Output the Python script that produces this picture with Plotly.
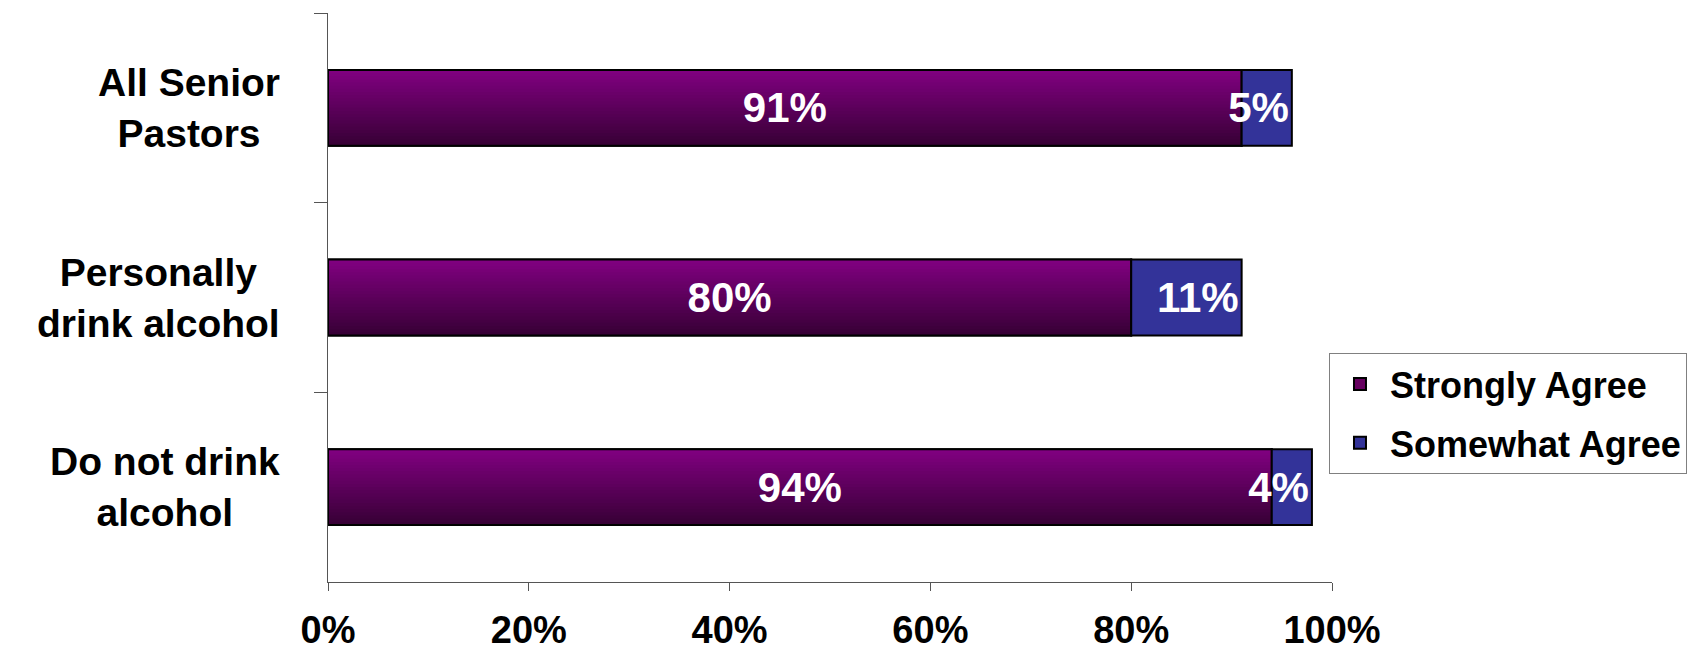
import plotly.graph_objects as go

categories = ["All Senior Pastors", "Personally drink alcohol", "Do not drink alcohol"]
category_labels = ["All Senior<br>Pastors", "Personally<br>drink alcohol", "Do not drink<br>alcohol"]
strongly_agree = [91, 80, 94]
somewhat_agree = [5, 11, 4]
x_ticks = [0, 20, 40, 60, 80, 100]
x_tick_labels = ["0%", "20%", "40%", "60%", "80%", "100%"]

FONT = "Liberation Sans, Arial, sans-serif"
BAR_W = 0.4
N_SLICES = 24
TOP_RGB = (128, 0, 128)
BOT_RGB = (56, 0, 54)

fig = go.Figure()

# legend entry / base fill for Strongly Agree
fig.add_trace(go.Bar(
    y=categories, x=strongly_agree, orientation="h", name="Strongly Agree",
    width=BAR_W, marker=dict(color="#66005f", line=dict(color="#000000", width=2)),
    legendgroup="a", hoverinfo="skip",
))
# vertical gradient built from progressively shorter (lower) slices
for i in range(N_SLICES):
    t = i / (N_SLICES - 1)
    rgb = tuple(round(a + (b - a) * t) for a, b in zip(TOP_RGB, BOT_RGB))
    off = -BAR_W / 2 + i * BAR_W / N_SLICES
    fig.add_trace(go.Bar(
        y=categories, x=strongly_agree, orientation="h",
        width=BAR_W / 2 - off, offset=off,
        marker=dict(color="rgb(%d,%d,%d)" % rgb, line=dict(width=0)),
        showlegend=False, hoverinfo="skip", legendgroup="a",
    ))
# outline + labels
fig.add_trace(go.Bar(
    y=categories, x=strongly_agree, orientation="h", width=BAR_W,
    marker=dict(color="rgba(0,0,0,0)", line=dict(color="#000000", width=2)),
    text=[f"{v}%" for v in strongly_agree], textposition="inside",
    insidetextanchor="middle", constraintext="none", textangle=0,
    textfont=dict(family=FONT, size=42, color="white", weight="bold"),
    showlegend=False, legendgroup="a", name="Strongly Agree",
))
fig.add_trace(go.Bar(
    y=categories, x=somewhat_agree, base=strongly_agree, orientation="h",
    width=BAR_W, name="Somewhat Agree",
    marker=dict(color="#333399", line=dict(color="#000000", width=2)),
    text=[f"{v}%" for v in somewhat_agree], textposition="inside",
    insidetextanchor="end", constraintext="none", textangle=0,
    textfont=dict(family=FONT, size=42, color="white", weight="bold"),
    legendgroup="b",
))

for cat, lab in zip(categories, category_labels):
    fig.add_annotation(
        x=-0.046, xref="paper", y=cat, yref="y", text=lab, showarrow=False,
        xanchor="right", yanchor="middle", align="center",
        font=dict(family=FONT, size=39, color="black", weight="bold"),
    )

fig.update_layout(
    width=1692, height=646,
    margin=dict(l=320, r=368, t=5, b=72, autoexpand=False),
    paper_bgcolor="white", plot_bgcolor="white",
    barmode="overlay",
    showlegend=True,
    legend=dict(
        x=0.997, y=0.4025, xanchor="left", yanchor="top",
        bgcolor="white", bordercolor="#808080", borderwidth=1,
        font=dict(family=FONT, size=36, color="black", weight="bold"),
        traceorder="grouped", tracegroupgap=9, itemwidth=50,
    ),
    xaxis=dict(
        range=[0, 100], tickvals=x_ticks, ticktext=x_tick_labels,
        showgrid=False, zeroline=False, showline=True, linecolor="#555555", linewidth=1,
        ticks="outside", ticklen=8, tickcolor="#555555", automargin=False,
        tickfont=dict(family=FONT, size=38, color="black", weight="bold"),
        ticklabelstandoff=6,
    ),
    yaxis=dict(
        type="category", categoryorder="array", categoryarray=categories,
        autorange="reversed", showticklabels=False, tickson="boundaries",
        showgrid=False, zeroline=False, showline=True, linecolor="#555555", linewidth=1,
        ticks="outside", ticklen=13, tickcolor="#555555", automargin=False,
    ),
)

fig.write_html("out.html")
